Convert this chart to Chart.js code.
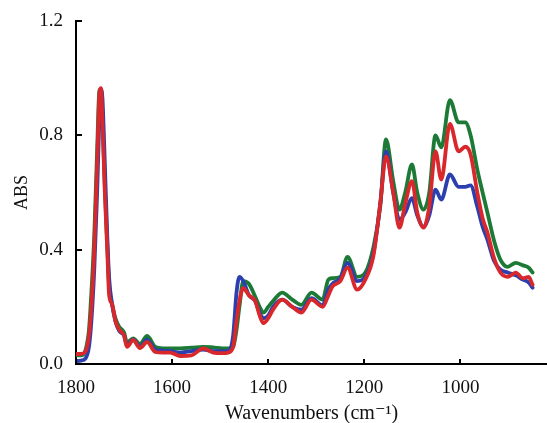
<!DOCTYPE html>
<html>
<head>
<meta charset="utf-8">
<script src="https://cdn.jsdelivr.net/npm/chart.js@4/dist/chart.umd.min.js"></script>
<style>
  html, body { margin: 0; padding: 0; background: #ffffff; }
  #wrap { width: 547px; height: 423px; position: relative; }
</style>
</head>
<body>
<div id="wrap"><canvas id="c"></canvas></div>
<script>
const wavenumbers = [1800, 1790, 1780, 1773, 1768, 1762, 1756, 1751, 1748, 1745, 1740, 1735, 1731, 1725, 1718, 1710, 1700, 1694, 1681, 1667, 1652, 1635, 1620, 1604, 1583, 1560, 1535, 1515, 1495, 1483, 1473, 1466, 1460, 1452, 1440, 1427, 1418, 1410, 1400, 1390, 1371, 1350, 1331, 1310, 1287, 1275, 1267, 1250, 1235, 1215, 1198, 1181, 1167, 1155, 1140, 1127, 1115, 1101, 1090, 1077, 1065, 1052, 1040, 1022, 1004, 990, 979, 965, 954, 944, 930, 917, 902, 885, 870, 858, 850];

const redSeries = [0.035, 0.035, 0.045, 0.10, 0.20, 0.40, 0.70, 0.95, 0.965, 0.85, 0.60, 0.40, 0.24, 0.21, 0.15, 0.12, 0.10, 0.06, 0.084, 0.056, 0.077, 0.042, 0.04, 0.04, 0.028, 0.03, 0.055, 0.04, 0.038, 0.04, 0.06, 0.15, 0.22, 0.265, 0.24, 0.22, 0.17, 0.143, 0.16, 0.19, 0.225, 0.20, 0.18, 0.225, 0.20, 0.24, 0.27, 0.29, 0.337, 0.26, 0.295, 0.38, 0.56, 0.726, 0.60, 0.477, 0.56, 0.64, 0.53, 0.477, 0.55, 0.744, 0.645, 0.84, 0.744, 0.76, 0.733, 0.60, 0.51, 0.46, 0.37, 0.32, 0.305, 0.32, 0.30, 0.305, 0.277];

const greenSeries = [0.03, 0.03, 0.05, 0.12, 0.25, 0.45, 0.75, 0.96, 0.96, 0.86, 0.62, 0.42, 0.27, 0.21, 0.16, 0.13, 0.11, 0.075, 0.09, 0.07, 0.098, 0.06, 0.055, 0.055, 0.055, 0.057, 0.06, 0.058, 0.055, 0.055, 0.06, 0.12, 0.20, 0.29, 0.28, 0.235, 0.20, 0.18, 0.20, 0.22, 0.25, 0.225, 0.207, 0.25, 0.225, 0.295, 0.30, 0.305, 0.375, 0.305, 0.32, 0.41, 0.55, 0.786, 0.64, 0.54, 0.60, 0.698, 0.60, 0.54, 0.60, 0.80, 0.758, 0.923, 0.845, 0.845, 0.80, 0.68, 0.60, 0.53, 0.43, 0.365, 0.34, 0.354, 0.345, 0.337, 0.32];

const blueSeries = [0.01, 0.012, 0.02, 0.06, 0.15, 0.33, 0.60, 0.88, 0.96, 0.93, 0.70, 0.45, 0.30, 0.21, 0.15, 0.115, 0.10, 0.065, 0.085, 0.06, 0.085, 0.05, 0.047, 0.045, 0.04, 0.045, 0.05, 0.045, 0.045, 0.045, 0.10, 0.25, 0.305, 0.29, 0.24, 0.22, 0.18, 0.16, 0.17, 0.20, 0.225, 0.20, 0.19, 0.23, 0.205, 0.26, 0.28, 0.30, 0.354, 0.29, 0.305, 0.39, 0.56, 0.744, 0.60, 0.505, 0.53, 0.58, 0.52, 0.48, 0.52, 0.61, 0.575, 0.663, 0.62, 0.62, 0.625, 0.55, 0.48, 0.435, 0.36, 0.33, 0.32, 0.31, 0.295, 0.285, 0.267];

const xTickValues = [1800, 1600, 1400, 1200, 1000];
const yTickValues = [0.0, 0.4, 0.8, 1.2];

function pts(vals) { return wavenumbers.map((w, i) => ({ x: w, y: vals[i] })); }

const FONT = "'Liberation Serif', 'DejaVu Serif', serif";

const inwardTicks = {
  id: 'inwardTicks',
  afterDatasetsDraw(chart) {
    const ctx = chart.ctx;
    const xs = chart.scales.x, ys = chart.scales.y;
    ctx.save();
    ctx.strokeStyle = '#000';
    ctx.lineWidth = 2;
    ctx.beginPath();
    xTickValues.forEach(v => {
      const px = Math.round(xs.getPixelForValue(v));
      ctx.moveTo(px, ys.bottom);
      ctx.lineTo(px, ys.bottom - 5);
    });
    yTickValues.forEach(v => {
      const py = Math.round(ys.getPixelForValue(v));
      ctx.moveTo(xs.left, py);
      ctx.lineTo(xs.left + 6, py);
    });
    ctx.stroke();
    ctx.restore();
  }
};

new Chart(document.getElementById('c'), {
  type: 'line',
  data: {
    datasets: [
      { label: 'Red', data: pts(redSeries), borderColor: '#d8282c', order: 0 },
      { label: 'Blue', data: pts(blueSeries), borderColor: '#2c3fae', order: 1 },
      { label: 'Green', data: pts(greenSeries), borderColor: '#1c7a36', order: 2 }
    ]
  },
  options: {
    responsive: true,
    maintainAspectRatio: false,
    animation: false,
    devicePixelRatio: 1,
    layout: { padding: { top: 21, right: 0, bottom: 0, left: 0 } },
    elements: {
      point: { radius: 0 },
      line: { borderWidth: 3.8, cubicInterpolationMode: 'monotone', fill: false, borderJoinStyle: 'round', borderCapStyle: 'round' }
    },
    plugins: { legend: { display: false }, tooltip: { enabled: false } },
    scales: {
      x: {
        type: 'linear',
        reverse: true,
        min: 820,
        max: 1800,
        afterBuildTicks(scale) { scale.ticks = xTickValues.map(v => ({ value: v })); },
        afterFit(scale) { scale.height = 59; },
        grid: { display: false },
        border: { display: true, color: '#000', width: 2 },
        ticks: {
          color: '#111',
          font: { family: FONT, size: 19 },
          padding: 5,
          maxRotation: 0,
          autoSkip: false,
          callback: v => String(v)
        },
        title: {
          display: true,
          text: 'Wavenumbers (cm⁻¹)',
          color: '#111',
          font: { family: FONT, size: 20 },
          padding: { top: 0, bottom: -3 }
        }
      },
      y: {
        type: 'linear',
        min: 0,
        max: 1.2,
        afterBuildTicks(scale) { scale.ticks = yTickValues.map(v => ({ value: v })); },
        afterFit(scale) { scale.width = 76; },
        grid: { display: false },
        border: { display: true, color: '#000', width: 2 },
        ticks: {
          color: '#111',
          font: { family: FONT, size: 19 },
          padding: 5,
          callback: v => Number(v).toFixed(1)
        },
        title: {
          display: true,
          text: 'ABS',
          color: '#111',
          font: { family: FONT, size: 18 },
          padding: { top: 11, bottom: 0 }
        }
      }
    }
  },
  plugins: [inwardTicks]
});
</script>
</body>
</html>
